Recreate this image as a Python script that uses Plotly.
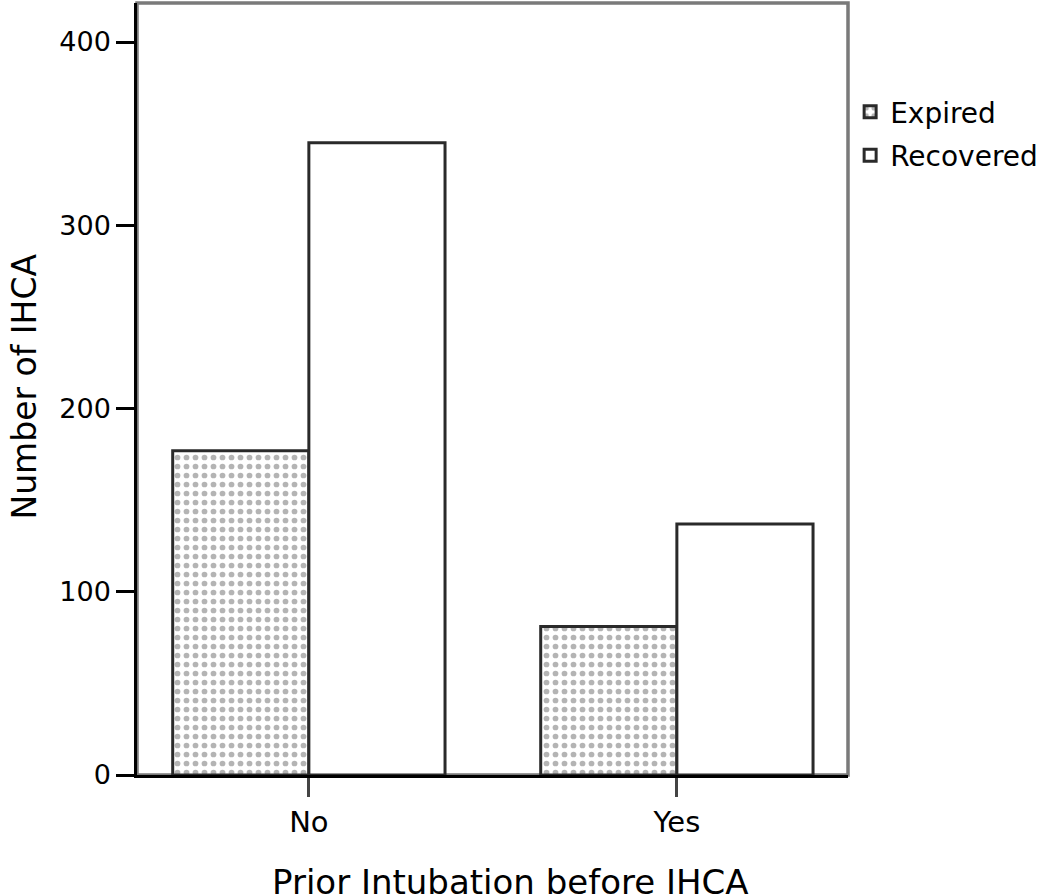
import plotly.graph_objects as go

categories = ["No", "Yes"]
expired = [177, 81]
recovered = [345, 137]
y_ticks = [0, 100, 200, 300, 400]

FONT = "DejaVu Sans"
PLOT_W = 1046 - 137 - 198
PLOT_H = 895 - 3 - 120

fig = go.Figure()
fig.add_trace(go.Bar(
    x=categories, y=expired, name="Expired", legendgroup="a",
    marker=dict(color="white",
                line=dict(color="#2a2a2a", width=3),
                pattern=dict(shape=".", fgcolor="#6a6a6a", bgcolor="white", size=9, solidity=0.32)),
))
fig.add_trace(go.Bar(
    x=categories, y=recovered, name="Recovered", legendgroup="b",
    marker=dict(color="white", line=dict(color="#2a2a2a", width=3)),
))

fig.update_layout(
    width=1046, height=895,
    margin=dict(l=137, r=198, t=3, b=120, autoexpand=False),
    paper_bgcolor="white", plot_bgcolor="white",
    barmode="group", bargap=0.26, bargroupgap=0,
    font=dict(family=FONT, color="black", size=26),
    showlegend=True,
    legend=dict(x=1.003, y=0.891, xanchor="left", yanchor="top",
                font=dict(family=FONT, size=28, color="black"),
                bgcolor="rgba(0,0,0,0)", borderwidth=0, tracegroupgap=4,
                traceorder="grouped", itemwidth=30),
    xaxis=dict(range=[-0.467, 1.465], showgrid=False, zeroline=False,
               showline=True, linecolor="black", linewidth=2.5,
               ticks="outside", ticklen=19, tickwidth=2.5, tickcolor="#444",
               tickfont=dict(family=FONT, size=29)),
    yaxis=dict(range=[0, 421.3], tickvals=y_ticks, showgrid=False, zeroline=False,
               showline=True, linecolor="black", linewidth=2.5,
               ticks="outside", ticklen=18, tickwidth=2.5, tickcolor="black",
               tickfont=dict(family=FONT, size=27)),
    shapes=[dict(type="rect", xref="paper", yref="paper", x0=0, x1=1, y0=0, y1=1,
                 line=dict(color="#7a7a7a", width=3.5), layer="below")],
    annotations=[
        dict(text="Prior Intubation before IHCA", xref="paper", yref="paper",
             x=(510 - 137) / PLOT_W, y=-(85 / PLOT_H), xanchor="center", yanchor="top",
             showarrow=False, font=dict(family=FONT, size=34, color="black")),
        dict(text="Number of IHCA", xref="paper", yref="paper",
             x=-(135 / PLOT_W), y=(775 - 387) / PLOT_H, xanchor="left", yanchor="middle",
             textangle=-90, showarrow=False, font=dict(family=FONT, size=33, color="black")),
    ],
)

fig.write_html("out.html")
